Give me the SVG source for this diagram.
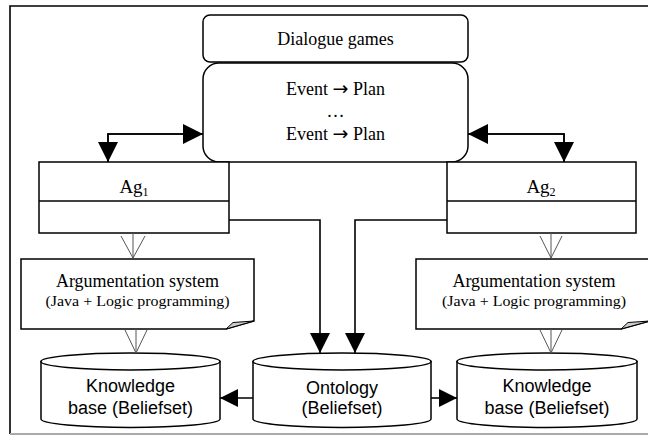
<svg xmlns="http://www.w3.org/2000/svg" width="648" height="437" viewBox="0 0 648 437">
<defs>
<marker id="ah" viewBox="0 0 20 20" refX="20" refY="10" markerWidth="20" markerHeight="20" markerUnits="userSpaceOnUse" orient="auto">
<path d="M0,0 L20,10 L0,20 Z" fill="#000"/>
</marker>
<marker id="ahs" viewBox="0 0 18 18" refX="18" refY="9" markerWidth="18" markerHeight="18" markerUnits="userSpaceOnUse" orient="auto">
<path d="M0,0 L18,9 L0,18 Z" fill="#000"/>
</marker>
</defs>
<style>
.box{fill:#fff;stroke:#000;stroke-width:1.5}
.ln{fill:none;stroke:#000;stroke-width:1.6}
.open{fill:none;stroke:#555;stroke-width:1}
.serif{font-family:"Liberation Serif","Times New Roman",serif;fill:#000;text-anchor:middle}
.sans{font-family:"Liberation Sans",Arial,sans-serif;fill:#000;text-anchor:middle;font-size:18px}
.fold{fill:#ccc;stroke:#000;stroke-width:1}
.arr{font-family:"DejaVu Sans",sans-serif;font-size:19px}
</style>
<rect x="0" y="0" width="648" height="437" fill="#fff"/>
<g id="frame">
<polyline points="10,434 10,6 648,6" fill="none" stroke="#000" stroke-width="1.6"/>
<line x1="10" y1="434" x2="648" y2="434" stroke="#aaa" stroke-width="2"/>
</g>
<g id="dialogue">
<rect class="box" x="203" y="15" width="265" height="47" rx="7"/>
<text class="serif" x="335.5" y="45" font-size="18">Dialogue games</text>
</g>
<g id="plans">
<rect class="box" x="203" y="63" width="265" height="99" rx="16"/>
<text class="serif" x="335.5" y="95" font-size="18">Event <tspan class="arr">→</tspan> Plan</text>
<text class="serif" x="335.5" y="117" font-size="18">…</text>
<text class="serif" x="335.5" y="140" font-size="18">Event <tspan class="arr">→</tspan> Plan</text>
</g>
<g id="ag1">
<rect class="box" x="39" y="162" width="190" height="71"/>
<line class="ln" x1="39" y1="201" x2="229" y2="201" stroke-width="1.5"/>
<text class="serif" x="134" y="193" font-size="19">Ag<tspan font-size="12" dy="3">1</tspan></text>
</g>
<g id="ag2">
<rect class="box" x="447" y="162" width="189" height="71"/>
<line class="ln" x1="447" y1="201" x2="636" y2="201" stroke-width="1.5"/>
<text class="serif" x="541" y="193" font-size="19">Ag<tspan font-size="12" dy="3">2</tspan></text>
</g>
<g id="arg1">
<path class="box" d="M21,259 H254 V321 L226,329 H21 Z"/>
<path class="fold" d="M226,329 L233,322.5 L254,321 Z"/>
<text class="serif" x="137.5" y="287" font-size="18">Argumentation system</text>
<text class="serif" x="137.5" y="306" font-size="15" textLength="184" lengthAdjust="spacingAndGlyphs">(Java + Logic programming)</text>
</g>
<g id="arg2">
<path class="box" d="M416,259 H650 V321 L621,329 H416 Z"/>
<path class="fold" d="M621,329 L628,322.5 L650,321 Z"/>
<text class="serif" x="534" y="287" font-size="18">Argumentation system</text>
<text class="serif" x="534" y="306" font-size="15" textLength="184" lengthAdjust="spacingAndGlyphs">(Java + Logic programming)</text>
</g>
<g id="kb1">
<path class="box" d="M41,361.5 V419 A89.5,8.5 0 0 0 220,419 V361.5 Z"/>
<ellipse class="box" cx="130.5" cy="361.5" rx="89.5" ry="8.5"/>
<text class="sans" x="130.5" y="392">Knowledge</text>
<text class="sans" x="130.5" y="414">base (Beliefset)</text>
</g>
<g id="ontology">
<path class="box" d="M253,361.5 V419 A89,8.5 0 0 0 431,419 V361.5 Z"/>
<ellipse class="box" cx="342" cy="361.5" rx="89" ry="8.5"/>
<text class="sans" x="342" y="394">Ontology</text>
<text class="sans" x="342" y="414">(Beliefset)</text>
</g>
<g id="kb2">
<path class="box" d="M457,361.5 V419 A90,8.5 0 0 0 637,419 V361.5 Z"/>
<ellipse class="box" cx="547" cy="361.5" rx="90" ry="8.5"/>
<text class="sans" x="547" y="392">Knowledge</text>
<text class="sans" x="547" y="414">base (Beliefset)</text>
</g>
<g id="connectors">
<path class="ln" d="M108,162 V134 H203" marker-end="url(#ah)"/>
<path class="ln" d="M203,134 H108 V162" marker-end="url(#ah)"/>
<path class="ln" d="M564,162 V134 H468" marker-end="url(#ah)"/>
<path class="ln" d="M468,134 H564 V162" marker-end="url(#ah)"/>
<path class="ln" d="M229,220 H320 V353" marker-end="url(#ah)"/>
<path class="ln" d="M447,220 H355 V353" marker-end="url(#ah)"/>
<path class="ln" d="M253,398 H220" marker-end="url(#ahs)"/>
<path class="ln" d="M431,398 H457" marker-end="url(#ahs)"/>
<path class="open" d="M133,233 V258 M121,236 L133,258 L145,236"/>
<path class="open" d="M136,329 V353 M125,330 L136,353 L147,330"/>
<path class="open" d="M551,233 V258 M540,236 L551,258 L562,236"/>
<path class="open" d="M551,329 V353 M540,330 L551,353 L562,330"/>
</g>
</svg>
